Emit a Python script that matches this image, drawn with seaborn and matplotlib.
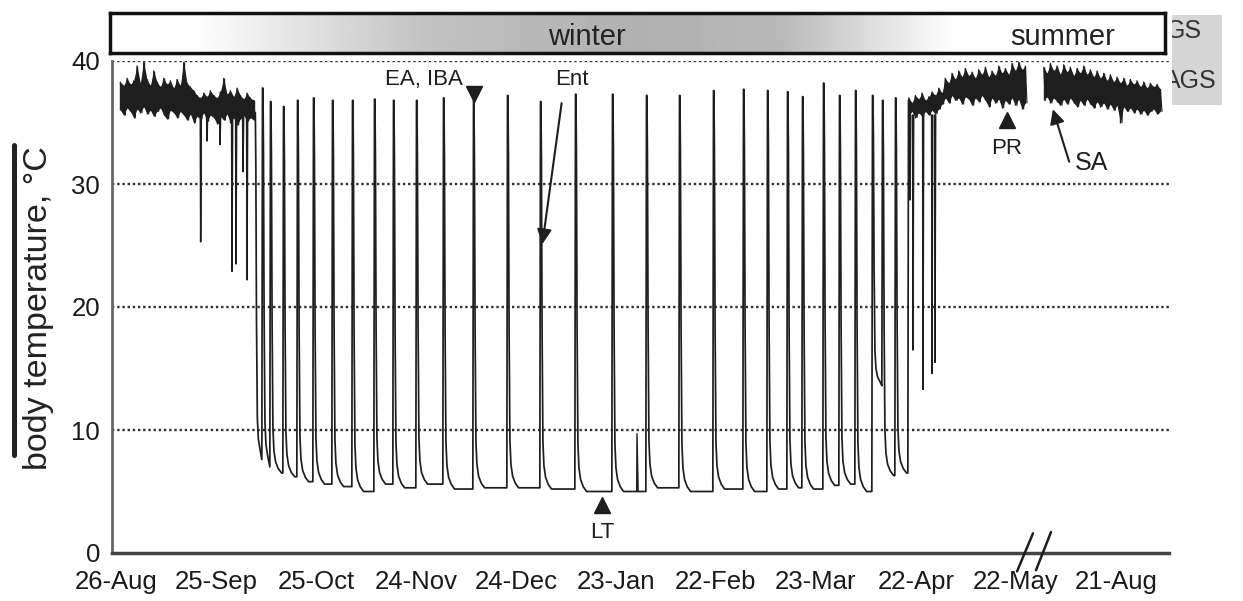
import numpy as np
import pandas as pd
import matplotlib
matplotlib.use("Agg")
import matplotlib.pyplot as plt
import seaborn as sns
from matplotlib.patches import Rectangle
from matplotlib.lines import Line2D
from matplotlib.transforms import ScaledTranslation

# ---------------- data ----------------
tick_days = [0, 30, 60, 90, 120, 150, 180, 210, 240, 270, 300]
tick_labels = ["26-Aug", "25-Sep", "25-Oct", "24-Nov", "24-Dec", "23-Jan",
               "22-Feb", "23-Mar", "22-Apr", "22-May", "21-Aug"]
y_ticks = [0, 10, 20, 30, 40]
grid_levels = [10, 20, 30, 40]

# euthermic period 1 (autumn) : envelope of the noisy trace
eu1_days = [2.5, 3.5, 4.5, 5.5, 6.5, 7.5, 8.5, 9.5, 10.5, 11.5, 12.5, 13.5, 14.5, 15.5,
            16.5, 17.5, 18.5, 19.5, 20.5, 21.5, 22.5, 23.5, 24.5, 25.5, 26.5, 27.5, 28.5,
            29.5, 30.5, 31.5, 32.5, 33.5, 34.5, 35.5, 36.5, 37.5, 38.5, 39.5, 40.5, 41.5, 42.5]
eu1_hi = [38.3, 38.0, 38.6, 38.1, 38.4, 39.6, 38.2, 39.9, 38.5, 38.0, 39.2, 38.3, 37.9, 38.6,
          38.1, 38.4, 37.8, 38.5, 38.0, 39.9, 38.2, 37.9, 37.6, 37.2, 37.0, 37.4, 37.1, 37.6,
          37.2, 37.0, 37.5, 38.6, 37.3, 37.6, 37.1, 37.8, 37.2, 36.9, 37.4, 37.0, 36.8]
eu1_lo = [36.0, 35.6, 36.2, 35.9, 35.4, 36.1, 35.8, 36.3, 35.7, 36.0, 35.5, 35.9, 36.2, 35.6,
          35.3, 36.0, 35.8, 35.4, 35.9, 35.6, 35.2, 35.7, 35.0, 35.5, 35.3, 35.8, 35.1, 35.6,
          35.4, 34.9, 35.5, 35.2, 35.7, 35.0, 35.4, 34.8, 35.3, 35.6, 35.1, 35.4, 35.2]

# euthermic period 2 (spring, before the axis break)
eu2_days = [239, 240, 241, 242, 243, 244, 245, 246, 247, 248, 249, 250, 251, 252, 253, 254,
            255, 256, 257, 258, 259, 260, 261, 262, 263, 264, 265, 266, 267, 268, 269, 270,
            271, 272, 273, 274]
eu2_hi = [37.0, 36.6, 37.2, 36.9, 37.4, 36.8, 37.1, 37.5, 37.2, 37.8, 37.4, 38.6, 38.2, 39.0,
          38.5, 39.2, 38.7, 39.4, 38.8, 39.1, 38.6, 39.3, 38.9, 39.5, 38.7, 39.2, 38.8, 39.6,
          39.0, 39.4, 38.9, 39.8, 39.2, 39.9, 39.3, 39.6]
eu2_lo = [35.6, 35.9, 35.4, 35.8, 35.5, 35.9, 35.6, 36.0, 35.7, 36.1, 36.5, 37.0, 36.6, 37.2,
          36.8, 37.0, 36.5, 37.1, 36.9, 36.4, 37.0, 36.7, 37.2, 36.8, 36.3, 37.0, 36.6, 36.9,
          36.2, 36.8, 36.5, 37.0, 36.4, 36.9, 36.1, 36.6]

# euthermic period 3 (summer, after the axis break)
eu3_days = [279.5, 280.5, 281.5, 282.5, 283.5, 284.5, 285.5, 286.5, 287.5, 288.5, 289.5,
            290.5, 291.5, 292.5, 293.5, 294.5, 295.5, 296.5, 297.5, 298.5, 299.5, 300.5,
            301.5, 302.5, 303.5, 304.5, 305.5, 306.5, 307.5, 308.5, 309.5, 310.5, 311.5,
            312.5, 313.5, 314.5]
eu3_hi = [39.5, 39.0, 39.8, 39.2, 39.6, 38.9, 39.7, 39.1, 39.5, 38.8, 39.4, 39.0, 39.6, 38.9,
          39.3, 38.7, 39.2, 38.6, 39.0, 38.4, 38.9, 38.3, 38.7, 38.2, 38.6, 38.0, 38.5, 38.1,
          38.4, 37.9, 38.3, 37.8, 38.2, 37.9, 38.1, 37.7]
eu3_lo = [36.8, 37.1, 36.6, 37.0, 36.7, 36.4, 36.9, 36.5, 37.0, 36.6, 36.3, 36.8, 36.4, 36.9,
          36.5, 36.2, 36.7, 36.3, 36.6, 36.1, 36.5, 36.0, 36.4, 35.0, 36.3, 35.9, 36.2, 35.8,
          36.1, 35.7, 36.0, 35.6, 35.9, 36.1, 35.7, 35.9]

# short drops out of euthermia (test drops / shallow bouts)
dip_days = [26.6, 28.5, 32.4, 36.0, 37.2, 39.3, 40.5, 239.4, 240.3, 243.3, 246.0, 246.9]
dip_temps = [25.3, 33.5, 33.2, 22.9, 23.5, 31.0, 22.2, 28.7, 16.5, 13.3, 14.6, 15.5]
dip_base = 35.6

# torpor: entry, arousal times, floor temperature of each bout, peak at each arousal
entry_day = 43.0
entry_temp = 35.8
arousal_days = [45.0, 47.4, 51.3, 55.5, 60.3, 66.0, 72.0, 78.6, 84.3, 91.2, 99.3, 108.3,
                118.5, 128.4, 138.9, 150.0, 160.2, 170.1, 180.3, 189.3, 196.5, 202.5,
                207.0, 213.3, 218.1, 222.9, 228.0, 231.0, 234.9, 238.8]
bout_floors = [7.6, 7.0, 6.5, 6.2, 5.8, 5.6, 5.4, 5.0, 5.6, 5.3, 5.6, 5.2, 5.3, 5.3, 5.2,
               5.0, 5.0, 5.3, 5.0, 5.2, 5.0, 5.2, 5.3, 5.2, 5.5, 5.6, 5.0, 13.6, 6.3, 6.5]
arousal_peaks = [37.8, 36.7, 36.3, 36.8, 37.0, 36.8, 36.8, 36.9, 36.8, 36.8, 37.0, 36.8,
                 37.2, 36.7, 37.3, 37.3, 37.2, 37.2, 37.6, 37.7, 37.6, 37.5, 37.1, 38.2,
                 37.2, 37.6, 37.2, 36.8, 37.0, 36.8]
# cooling profile after an arousal (days after, fraction of peak-floor span)
cool_dt = [0.15, 0.35, 0.6, 0.9, 1.4, 2.2, 3.2]
cool_frac = [0.85, 0.4, 0.12, 0.06, 0.03, 0.012, 0.0]
# partial arousal during a bout
partial_days = [157.5]
partial_top = [9.7]
partial_base = [5.0]

# ---------------- style ----------------
sns.set_style("white")
plt.rcParams["font.family"] = ["Liberation Sans", "DejaVu Sans"]
INK = "#1e1e1e"

W, H = 1243, 601
fig = plt.figure(figsize=(W / 100, H / 100), dpi=100)
fig.patch.set_facecolor("white")


def fx(px):
    return px / W


def fy(py):
    return 1 - py / H


ax = fig.add_axes([fx(112), fy(553), fx(1169) - fx(112), fy(61) - fy(553)])
ax.set_xlim(0, 317.1)
ax.set_ylim(0, 40)

for g in grid_levels:
    ax.axhline(g, color="#2e2e2e", lw=1.7, ls=(0, (1, 1.2)), zorder=1)

# build torpor trace
tx, ty = [entry_day], [entry_temp]
start, top = entry_day, entry_temp
for a, fl, pk in zip(arousal_days, bout_floors, arousal_peaks):
    for dt, fr in zip(cool_dt, cool_frac):
        t = start + dt
        if t < a - 0.1:
            tx.append(t)
            ty.append(fl + fr * (top - fl))
    tx += [a - 0.05, a + 0.15, a + 0.28]
    ty += [fl, pk, pk]
    start, top = a + 0.28, pk

trace = pd.DataFrame({"day": tx, "temp": ty})
sns.lineplot(data=trace, x="day", y="temp", sort=False, estimator=None,
             color=INK, lw=1.25, ax=ax, zorder=3)


def band(days, hi, lo):
    d = np.asarray(days, float)
    ax.fill_between(d, lo, hi, color=INK, lw=0, zorder=3)
    ax.vlines(d, lo, hi, color=INK, lw=1.0, zorder=3)
    zx = np.ravel(np.column_stack([d, d + 0.5]))
    zy = np.ravel(np.column_stack([hi, lo]))
    ax.plot(zx, zy, color=INK, lw=0.8, zorder=3)


band(eu1_days, eu1_hi, eu1_lo)
band(eu2_days, eu2_hi, eu2_lo)
band(eu3_days, eu3_hi, eu3_lo)

for d, t in zip(dip_days, dip_temps):
    ax.plot([d - 0.12, d, d + 0.2], [dip_base, t, dip_base], color=INK, lw=1.1, zorder=3)
for d, t, b in zip(partial_days, partial_top, partial_base):
    ax.plot([d - 0.1, d, d + 0.35], [b, t, b], color=INK, lw=1.0, zorder=3)

# axes styling
for s in ["top", "right"]:
    ax.spines[s].set_visible(False)
ax.spines["left"].set_color("#666666")
ax.spines["left"].set_linewidth(2.0)
ax.spines["bottom"].set_color("#444444")
ax.spines["bottom"].set_linewidth(2.5)
ax.set_xticks(tick_days)
ax.set_xticklabels(tick_labels)
ax.set_yticks(y_ticks)
ax.set_xlabel("")
ax.set_ylabel("")
ax.tick_params(axis="x", direction="in", length=4, width=1.5, color="#444444",
               labelsize=18.5, pad=12, labelcolor="#1a1a1a")
ax.tick_params(axis="y", direction="inout", length=5, width=1.3, color="#555555",
               labelsize=18.5, pad=6, labelcolor="#1a1a1a")
for lbl in ax.get_xticklabels():
    lbl.set_transform(lbl.get_transform() + ScaledTranslation(4 / 100, 0, fig.dpi_scale_trans))

# axis break marks
ax.plot([271.5, 276.3], [-1.5, 1.6], color=INK, lw=1.8, clip_on=False, zorder=5)
ax.plot([277.2, 281.7], [-1.4, 1.7], color=INK, lw=1.8, clip_on=False, zorder=5)

# annotations
ax.text(93.6, 38.5, "EA, IBA", fontsize=16, ha="center", va="center", color=INK)
ax.plot([108.6], [37.3], marker="v", ms=11, color=INK, zorder=6)
ax.text(138.0, 38.5, "Ent", fontsize=16, ha="center", va="center", color=INK)
ax.annotate("", xy=(129.0, 24.9), xytext=(135.0, 36.8),
            arrowprops=dict(arrowstyle="-|>", color=INK, lw=1.5, mutation_scale=22))
ax.plot([147.0], [3.9], marker="^", ms=11, color=INK, zorder=6)
ax.text(147.0, 1.7, "LT", fontsize=16, ha="center", va="center", color=INK)
ax.plot([268.5], [35.2], marker="^", ms=11, color=INK, zorder=6)
ax.text(268.5, 32.9, "PR", fontsize=16, ha="center", va="center", color=INK)
ax.text(293.7, 31.7, "SA", fontsize=18, ha="center", va="center", color=INK)
ax.annotate("", xy=(282.0, 36.3), xytext=(287.4, 31.6),
            arrowprops=dict(arrowstyle="-|>", color=INK, lw=1.5, mutation_scale=22))

# season bar
grad_pos = [0.0, 0.08, 0.30, 0.5, 0.64, 0.74, 0.80, 1.0]
grad_gray = [1.0, 1.0, 0.76, 0.69, 0.73, 0.90, 1.0, 1.0]
bar = fig.add_axes([fx(110), fy(53), fx(1165) - fx(110), fy(13) - fy(53)])
g = np.interp(np.linspace(0, 1, 600), grad_pos, grad_gray)
bar.imshow(g[None, :], cmap="gray", vmin=0, vmax=1, aspect="auto",
           extent=[0, 1, 0, 1], interpolation="bilinear")
bar.set_xlim(0, 1)
bar.set_ylim(0, 1)
bar.set_xticks([])
bar.set_yticks([])
for s in bar.spines.values():
    s.set_visible(True)
    s.set_color("#111111")
    s.set_linewidth(2.5)
bar.text((587 - 110) / 1055, 0.2, "winter", fontsize=21, ha="center", va="baseline", color="#222222")
bar.text((1063 - 110) / 1055, 0.2, "summer", fontsize=21, ha="center", va="baseline", color="#222222")

# clipped legend box on the right
box = Rectangle((fx(1172), fy(105)), fx(1222) - fx(1172), fy(15) - fy(105),
                transform=fig.transFigure, facecolor="#d6d6d6", edgecolor="none")
fig.patches.append(box)
t1 = fig.text(fx(1166), fy(38), "GS", fontsize=18, ha="left", va="baseline", color="#333333")
t2 = fig.text(fx(1164), fy(88), "AGS", fontsize=18, ha="left", va="baseline", color="#333333")
for t in (t1, t2):
    t.set_clip_path(box)

# y label and bar
fig.text(fx(39), fy(308), "body temperature, °C", rotation=90, fontsize=24.5,
         ha="center", va="center", color="#222222")
fig.lines.append(Line2D([fx(14), fx(14)], [fy(145), fy(455)], transform=fig.transFigure,
                        color="#222222", lw=3.6))

fig.savefig("out.png", dpi=100)
